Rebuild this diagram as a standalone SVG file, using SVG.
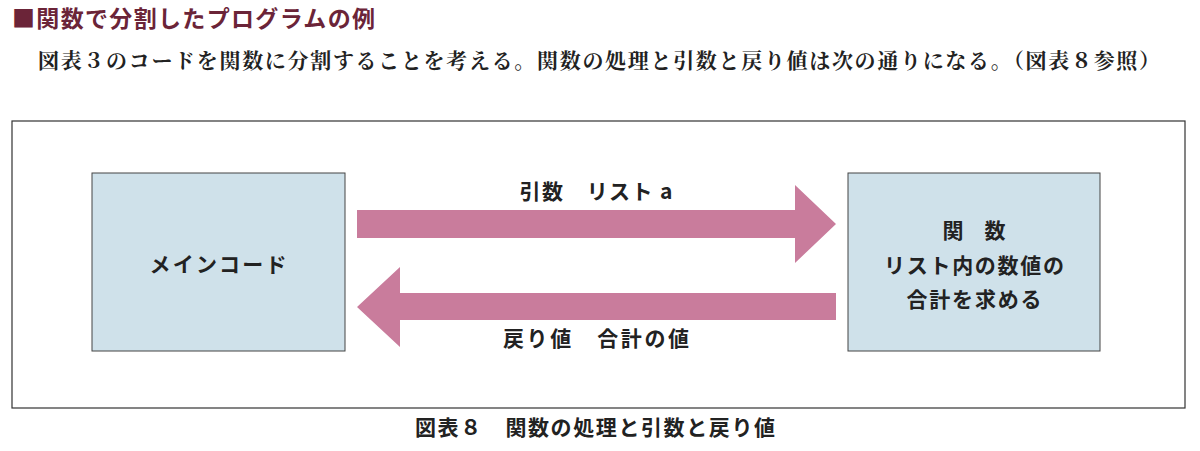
<svg xmlns="http://www.w3.org/2000/svg" width="1200" height="451" viewBox="0 0 1200 451">
<style>
.t{font-family:"Noto Sans CJK JP","Noto Sans",sans-serif;font-weight:bold;fill:#222}
.box{fill:#cfe1ea;stroke:#444;stroke-width:1}
.arr{fill:#c97c9c}
</style>
<rect width="1200" height="451" fill="#fff"/>
<text x="12" y="27" class="t" font-size="23" textLength="363" style="fill:#6b2438">■関数で分割したプログラムの例</text>
<text x="38" y="68" font-size="21" font-weight="bold" fill="#222" textLength="1122" font-family="Noto Serif CJK JP,Noto Sans CJK JP,serif">図表３のコードを関数に分割することを考える。関数の処理と引数と戻り値は次の通りになる。（図表８参照）</text>
<rect x="12" y="121" width="1173" height="287" fill="none" stroke="#333" stroke-width="1.2"/>
<g id="main"><rect class="box" x="92" y="173" width="253" height="178"/>
<text class="t" x="218" y="272" font-size="21" text-anchor="middle" textLength="137">メインコード</text></g>
<g id="func"><rect class="box" x="848" y="173" width="252" height="178"/>
<text class="t" x="974" y="238" font-size="21" text-anchor="middle">関　数</text>
<text class="t" x="974" y="273" font-size="21" text-anchor="middle" textLength="180">リスト内の数値の</text>
<text class="t" x="974" y="307" font-size="21" text-anchor="middle" textLength="135">合計を求める</text></g>
<g id="connectors">
<polygon class="arr" points="357,210 795,210 795,185 836,224 795,263 795,238 357,238"/>
<polygon class="arr" points="836,293 400,293 400,267 357,307 400,347 400,320 836,320"/>
<text class="t" x="596" y="199" font-size="21" text-anchor="middle" textLength="153">引数　リスト a</text>
<text class="t" x="596" y="346" font-size="21" text-anchor="middle" textLength="186">戻り値　合計の値</text>
</g>
<text class="t" x="595" y="435" font-size="21" text-anchor="middle" textLength="360">図表８　関数の処理と引数と戻り値</text>
</svg>
